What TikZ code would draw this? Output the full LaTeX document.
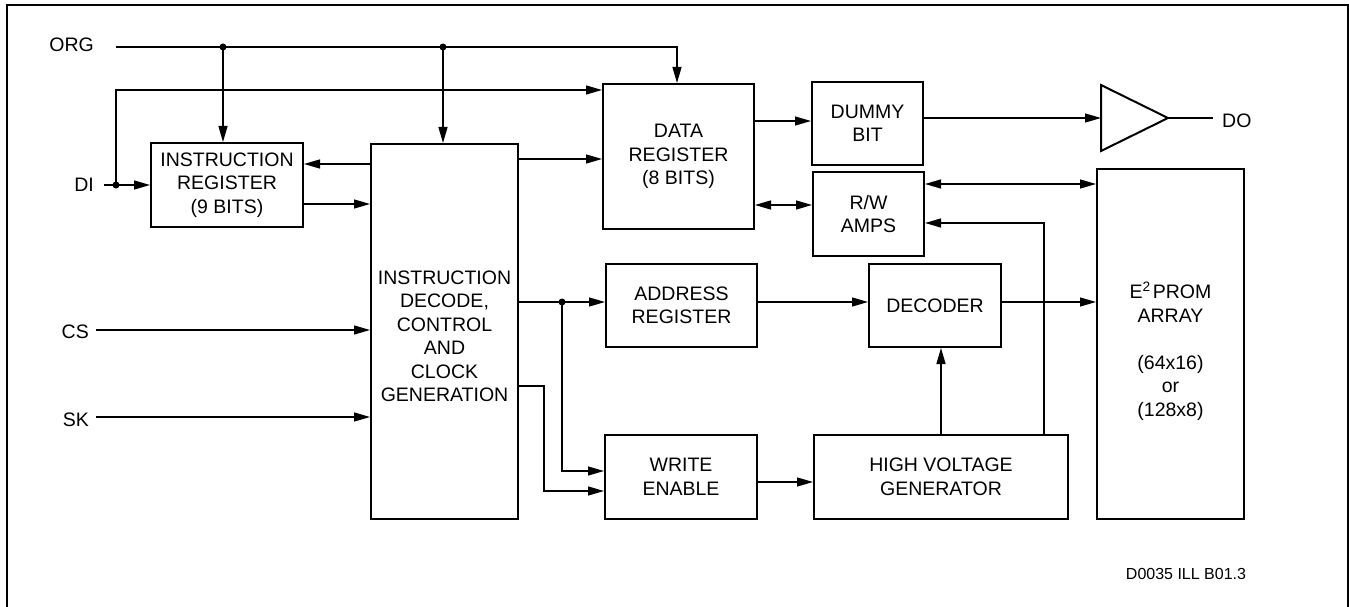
\documentclass[tikz,border=0pt]{standalone}
\usepackage{fontspec}
\setmainfont{Liberation Sans}
\usetikzlibrary{arrows.meta,calc}
\newcommand\blkfont{\fontsize{19.5}{23.5}\selectfont}
\begin{document}
\begin{tikzpicture}[x=1pt,y=-1pt,
  box/.style={draw,line width=2pt,inner sep=0pt,align=center,font=\blkfont},
  txt/.style={inner sep=0pt,align=center,font=\blkfont},
  pinlabel/.style={inner sep=0pt,font=\blkfont},
  outline/.style={draw,line width=2pt,line join=miter},
  conn/.style={line width=1.3pt},
  arr/.style={conn,-{Triangle[length=16pt,width=9pt]}},
  darr/.style={conn,{Triangle[length=16pt,width=9pt]}-{Triangle[length=16pt,width=9pt]}},
  junction/.style={fill=black}]
\useasboundingbox (0,0) rectangle (1349,607);

% outer frame (open at the bottom edge of the sheet)
\draw[line width=2.5pt] (7,612) -- (7,5) -- (1348,5) -- (1348,612);

% blocks
\node[box,minimum width=152pt,minimum height=84pt] (ir) at (227,185) {INSTRUCTION\\REGISTER\\(9 BITS)};
\node[box,minimum width=147pt,minimum height=375pt] (id) at (444.5,331.5) {};
\node[txt] (idtxt) at (444.5,336.5) {INSTRUCTION\\DECODE,\\CONTROL\\AND\\CLOCK\\GENERATION};
\node[box,minimum width=151pt,minimum height=145pt] (dr) at (678.5,156.5) {DATA\\REGISTER\\(8 BITS)};
\node[box,minimum width=111pt,minimum height=83pt] (dummy) at (867.5,123.5) {DUMMY\\BIT};
\node[box,minimum width=111pt,minimum height=84pt] (rw) at (868.5,214) {R/W\\AMPS};
\node[box,minimum width=151pt,minimum height=83pt] (ar) at (681.5,305.5) {ADDRESS\\REGISTER};
\node[box,minimum width=132pt,minimum height=83pt] (dec) at (935,305.5) {DECODER};
\node[box,minimum width=152pt,minimum height=84pt] (we) at (681,477) {WRITE\\ENABLE};
\node[box,minimum width=254pt,minimum height=84pt] (hv) at (941,477) {HIGH VOLTAGE\\GENERATOR};
\node[box,minimum width=147pt,minimum height=350pt] (e2) at (1170.5,344) {};
\node[txt] (e2txt) at (1170.5,351) {E\textsuperscript{2}\kern2pt PROM\\ARRAY\\\mbox{}\\(64x16)\\or\\(128x8)};

% output buffer
\coordinate (bufin) at (1101,118);
\coordinate (bufout) at (1168,118);
\draw[outline] (1101,85) -- (bufout) -- (1101,151) -- cycle;

% pin labels
\node[pinlabel,anchor=east] (org) at (94,45) {ORG};
\node[pinlabel,anchor=east] (di) at (94,185) {DI};
\node[pinlabel,anchor=east] (cs) at (89,332) {CS};
\node[pinlabel,anchor=east] (sk) at (89,420) {SK};
\node[pinlabel,anchor=west] (do) at (1222,121) {DO};

% ORG distribution
\coordinate (orgs) at (116,47);
\coordinate (j1) at (223,47);
\coordinate (j2) at (443,47);
\draw[arr] (orgs) -- (677,47) -- (dr.north -| 677,0);
\draw[arr] (j1) -- (ir.north -| j1);
\draw[arr] (j2) -- (id.north -| j2);
\fill[junction] (j1) circle[radius=3.5pt];
\fill[junction] (j2) circle[radius=3.5pt];

% DI input
\coordinate (dis) at (104,185);
\coordinate (j3) at (116,185);
\draw[arr] (dis) -- (ir.west);
\draw[arr] (j3) -- (116,90) -- (dr.west |- 0,90);
\fill[junction] (j3) circle[radius=3.5pt];

% instruction register <-> decode
\draw[arr] (id.west |- 0,164) -- (ir.east |- 0,164);
\draw[arr] (ir.east |- 0,204) -- (id.west |- 0,204);

% CS and SK
\coordinate (css) at (96,330);
\coordinate (sks) at (96,417);
\draw[arr] (css) -- (id.west |- css);
\draw[arr] (sks) -- (id.west |- sks);

% data path
\draw[arr] (id.east |- 0,159) -- (dr.west |- 0,159);
\draw[arr] (dr.east |- 0,121) -- (dummy.west |- 0,121);
\draw[arr] (dummy.east |- bufin) -- (bufin);
\coordinate (doend) at (1213,118);
\draw[conn] (bufout) -- (doend);
\draw[darr] (dr.east |- 0,205) -- (rw.west |- 0,205);
\draw[darr] (rw.east |- 0,184) -- (e2.west |- 0,184);

% address path
\coordinate (j4) at (562,302);
\draw[arr] (id.east |- j4) -- (ar.west |- j4);
\draw[arr] (j4) -- (562,471) -- (we.west |- 0,471);
\fill[junction] (j4) circle[radius=3.5pt];
\draw[arr] (id.east |- 0,386) -- (544,386) -- (544,491) -- (we.west |- 0,491);
\draw[arr] (ar.east |- j4) -- (dec.west |- j4);
\draw[arr] (dec.east |- j4) -- (e2.west |- j4);

% high voltage
\draw[arr] (we.east |- 0,482) -- (hv.west |- 0,482);
\draw[arr] (hv.north) -- (dec.south -| hv.north);
\draw[arr] (hv.north -| 1044,0) -- (1044,223) -- (rw.east |- 0,223);

% drawing reference
\node[inner sep=0pt,font=\fontsize{16}{19}\selectfont] (ref) at (1186,574) {D0035 ILL B01.3};
\end{tikzpicture}
\end{document}
